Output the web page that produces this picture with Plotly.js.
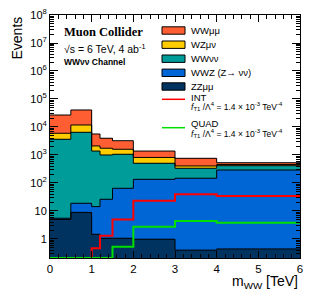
<!DOCTYPE html>
<html>
<head>
<meta charset="utf-8">
<script src="https://cdn.plot.ly/plotly-3.0.1.min.js"></script>
<style>html,body{margin:0;padding:0;background:#fff;}#plot{width:316px;height:308px;}</style>
</head>
<body>
<div id="plot"></div>
<script>
// ---- data ----
var binEdges = [0, 0.5, 1, 1.2, 1.5, 2, 3, 4, 6];
var ZZmumu = [5.0, 8.9, 1.47, 1.06, 1.06, 0.98, 0.40, 0.44];
var WWZ    = [0.5, 9.9, 12.8, 25.1, 63.5, 134, 147, 290];
var WWnunu = [3635, 6441, 1366, 974, 995, 370, 188, 125];
var WZmunu = [2320, 5340, 720, 740, 540, 310, 70, 43];
var WWmumu = [20840, 28700, 3520, 2220, 1640, 565, 355, 72];
var INT    = [0, 0, 0.47, 1.31, 5.0, 23.4, 39.4, 34.5];
var QUAD   = [0, 0, 0, 0, 0.53, 2.75, 4.4, 3.8];
var yTickVals = [1, 10, 100, 1e3, 1e4, 1e5, 1e6, 1e7, 1e8];
var yTickText = ['1', '10', '10<sup>2</sup>', '10<sup>3</sup>', '10<sup>4</sup>', '10<sup>5</sup>', '10<sup>6</sup>', '10<sup>7</sup>', '10<sup>8</sup>'];
var xTickVals = [0, 1, 2, 3, 4, 5, 6];

var stackNames = ['ZZμμ', 'WWZ (Z→ νν)', 'WWνν', 'WZμν', 'WWμμ'];
var stackData = [ZZmumu, WWZ, WWnunu, WZmunu, WWmumu];
var stackColors = ['#00335F', '#0066D6', '#009C99', '#FFCC00', '#FF5E33'];

var yLogMin = -0.68, yLogMax = 8;
var yFloor = Math.pow(10, yLogMin);

// geometry helpers
var centers = [], widths = [];
for (var i = 0; i < binEdges.length - 1; i++) {
  centers.push((binEdges[i] + binEdges[i + 1]) / 2);
  widths.push(binEdges[i + 1] - binEdges[i]);
}
// cumulative sums
var cum = [];
var run = ZZmumu.map(function () { return 0; });
stackData.forEach(function (arr) {
  run = run.map(function (v, k) { return v + arr[k]; });
  cum.push(run.slice());
});
function stepY(vals) {
  var out = vals.map(function (v) { return Math.max(v, yFloor); });
  out.push(out[out.length - 1]);
  return out;
}

var traces = [];
// fills: draw from the total downwards (ROOT-like overlay)
for (var s = stackData.length - 1; s >= 0; s--) {
  traces.push({
    type: 'bar', x: centers, y: cum[s], width: widths,
    marker: { color: stackColors[s], line: { width: 0 } },
    name: stackNames[s], showlegend: false, hoverinfo: 'skip'
  });
}
// outlines
for (var s2 = 0; s2 < stackData.length; s2++) {
  traces.push({
    type: 'scatter', mode: 'lines', x: binEdges, y: stepY(cum[s2]),
    line: { shape: 'hv', color: '#000', width: 1 }, showlegend: false, hoverinfo: 'skip'
  });
}
traces.push({
  type: 'scatter', mode: 'lines', x: binEdges, y: stepY(INT), name: 'INT',
  line: { shape: 'hv', color: '#FF0000', width: 2 }, showlegend: false
});
traces.push({
  type: 'scatter', mode: 'lines', x: binEdges, y: stepY(QUAD), name: 'QUAD',
  line: { shape: 'hv', color: '#00E000', width: 2 }, showlegend: false
});

// pixel -> paper helpers (plot area: x 50..300, y 15..258)
function PX(p) { return (p - 50) / 250; }
function PY(p) { return (258 - p) / 243; }

var shapes = [], ann = [];
var FONT = 'Liberation Sans, Arial, sans-serif';
var legendY = [30.5, 44.7, 58.7, 72.8, 86.5];
var legendOrder = [4, 3, 2, 1, 0];
legendOrder.forEach(function (idx, k) {
  shapes.push({
    type: 'rect', xref: 'paper', yref: 'paper',
    x0: PX(162), x1: PX(185), y0: PY(legendY[k] + 3.7), y1: PY(legendY[k] - 3.7),
    fillcolor: stackColors[idx], line: { color: '#000', width: 1 }
  });
  ann.push({
    xref: 'paper', yref: 'paper', x: PX(189), y: PY(legendY[k]), xanchor: 'left', yanchor: 'middle',
    text: stackNames[idx], showarrow: false, font: { family: FONT, size: 9.5, color: '#000' }
  });
});
shapes.push({ type: 'line', xref: 'paper', yref: 'paper', x0: PX(162), x1: PX(185), y0: PY(99.3), y1: PY(99.3), line: { color: '#FF0000', width: 1.5 } });
shapes.push({ type: 'line', xref: 'paper', yref: 'paper', x0: PX(162), x1: PX(185), y0: PY(127.7), y1: PY(127.7), line: { color: '#00E000', width: 1.5 } });
var coupling = '<i>f</i><sub>T1</sub> /Λ<sup>4</sup> = 1.4 × 10<sup>-3</sup> TeV<sup>-4</sup>';
ann.push({ xref: 'paper', yref: 'paper', x: PX(189), y: PY(97), xanchor: 'left', yanchor: 'middle', text: 'INT', showarrow: false, font: { family: FONT, size: 9.5, color: '#000' } });
ann.push({ xref: 'paper', yref: 'paper', x: PX(189), y: PY(106.5), xanchor: 'left', yanchor: 'middle', text: coupling, showarrow: false, font: { family: FONT, size: 8.5, color: '#000' } });
ann.push({ xref: 'paper', yref: 'paper', x: PX(189), y: PY(124), xanchor: 'left', yanchor: 'middle', text: 'QUAD', showarrow: false, font: { family: FONT, size: 9.5, color: '#000' } });
ann.push({ xref: 'paper', yref: 'paper', x: PX(189), y: PY(133.5), xanchor: 'left', yanchor: 'middle', text: coupling, showarrow: false, font: { family: FONT, size: 8.5, color: '#000' } });

// headline texts
ann.push({ xref: 'paper', yref: 'paper', x: PX(62), y: PY(32.5), xanchor: 'left', yanchor: 'middle', text: '<b>Muon Collider</b>', showarrow: false, font: { family: 'Liberation Serif, Times New Roman, serif', size: 12.5, color: '#000' } });
ann.push({ xref: 'paper', yref: 'paper', x: PX(62), y: PY(48.5), xanchor: 'left', yanchor: 'middle', text: '√s = 6 TeV, 4 ab<sup>-1</sup>', showarrow: false, font: { family: FONT, size: 10.5, color: '#000' } });
ann.push({ xref: 'paper', yref: 'paper', x: PX(62), y: PY(62), xanchor: 'left', yanchor: 'middle', text: '<b>WWνν Channel</b>', showarrow: false, font: { family: FONT, size: 8.5, color: '#000' } });

// axis titles
ann.push({ xref: 'paper', yref: 'paper', x: 1, y: PY(282), xanchor: 'right', yanchor: 'middle', text: 'm<sub>WW</sub> [TeV]', showarrow: false, font: { family: FONT, size: 14, color: '#000' } });
ann.push({ xref: 'paper', yref: 'paper', x: PX(16), y: 1, xanchor: 'center', yanchor: 'top', textangle: -90, text: 'Events', showarrow: false, font: { family: FONT, size: 14, color: '#000' } });

var layout = {
  width: 316, height: 308,
  margin: { l: 50, r: 16, t: 15, b: 50 },
  paper_bgcolor: '#fff', plot_bgcolor: '#fff',
  barmode: 'overlay', bargap: 0,
  showlegend: false,
  xaxis: {
    range: [0, 6], tickvals: xTickVals, ticks: 'inside', ticklen: 7, tickwidth: 1, tickcolor: '#000',
    showline: true, linecolor: '#000', linewidth: 1, mirror: 'ticks', showgrid: false, zeroline: false,
    tickfont: { family: FONT, size: 11.5, color: '#000' },
    minor: { dtick: 0.2, ticks: 'inside', ticklen: 4, tickcolor: '#000', showgrid: false }
  },
  yaxis: {
    type: 'log', range: [yLogMin, yLogMax], tickvals: yTickVals, ticktext: yTickText,
    ticks: 'inside', ticklen: 8, tickwidth: 1, tickcolor: '#000',
    showline: true, linecolor: '#000', linewidth: 1, mirror: 'ticks', showgrid: false, zeroline: false,
    tickfont: { family: FONT, size: 11, color: '#000' },
    minor: { dtick: 'D1', ticks: 'inside', ticklen: 4, tickcolor: '#000', showgrid: false }
  },
  shapes: shapes,
  annotations: ann
};

Plotly.newPlot('plot', traces, layout, { staticPlot: true, displayModeBar: false });
</script>
</body>
</html>
